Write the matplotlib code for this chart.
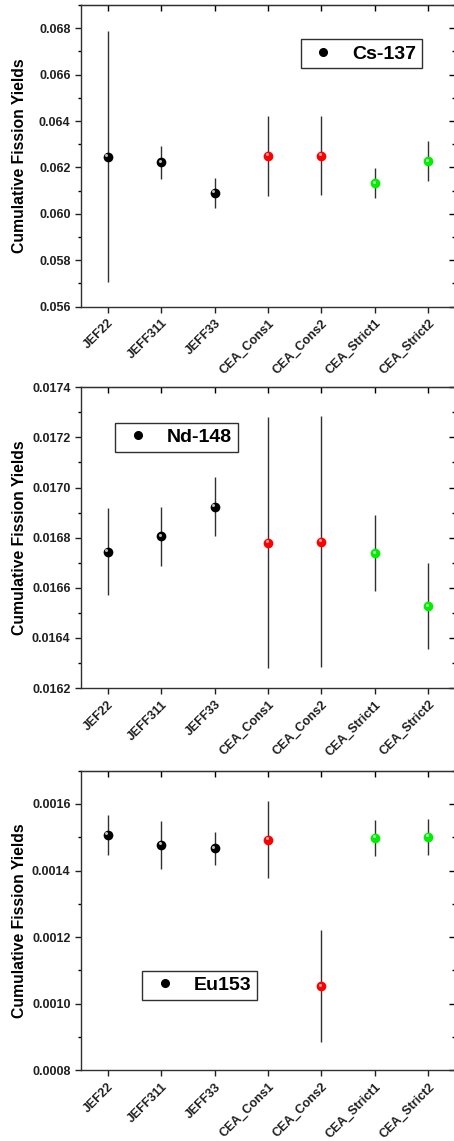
import matplotlib.pyplot as plt
import matplotlib.transforms as mtransforms
from matplotlib.lines import Line2D
from matplotlib.ticker import FormatStrFormatter, MultipleLocator, AutoMinorLocator
import numpy as np

plt.rcParams['font.family'] = ['Liberation Sans', 'DejaVu Sans']
plt.rcParams['font.weight'] = 'bold'

libraries = ['JEF22', 'JEFF311', 'JEFF33', 'CEA_Cons1', 'CEA_Cons2', 'CEA_Strict1', 'CEA_Strict2']
point_colors = ['black', 'black', 'black', '#ff0000', '#ff0000', '#00ee00', '#00ee00']

# Cs-137
cs_yield = [0.06247, 0.06222, 0.06091, 0.06250, 0.06250, 0.06132, 0.06227]
cs_err = [0.00540, 0.00072, 0.00065, 0.00171, 0.00170, 0.00064, 0.00087]

# Nd-148
nd_yield = [0.016744, 0.016805, 0.016924, 0.016780, 0.016784, 0.016739, 0.016527]
nd_err = [0.000173, 0.000118, 0.000119, 0.000500, 0.000500, 0.000150, 0.000170]

# Eu153
eu_yield = [0.001508, 0.001477, 0.001467, 0.001493, 0.001053, 0.001498, 0.001501]
eu_err = [0.000060, 0.000071, 0.000050, 0.000115, 0.000168, 0.000053, 0.000053]

panels = [
    ('Cs-137', cs_yield, cs_err, (0.056, 0.069), 0.002, '%.3f', [0.1784, 0.7312, 0.824, 0.2644], (0.587, 0.887)),
    ('Nd-148', nd_yield, nd_err, (0.0162, 0.0174), 0.0002, '%.4f', [0.1784, 0.3970, 0.824, 0.2636], (0.091, 0.882)),
    ('Eu153', eu_yield, eu_err, (0.0008, 0.0017), 0.0002, '%.4f', [0.1784, 0.0620, 0.824, 0.2626], (0.163, 0.332)),
]

highlight = {'black': '#d0d0d0', '#ff0000': '#ffb0b0', '#00ee00': '#c0ffc0'}

fig = plt.figure(figsize=(4.54, 11.41), dpi=100)
x = np.arange(1, len(libraries) + 1)

for name, vals, errs, ylim, step, fmt, rect, leg_pos in panels:
    ax = fig.add_axes(rect)
    ax.errorbar(x, vals, yerr=errs, fmt='none', ecolor='#303030', elinewidth=1.0, capsize=0, zorder=2)
    shine = mtransforms.offset_copy(ax.transData, fig=fig, x=-1.0, y=1.0, units='points')
    for xi, v, c in zip(x, vals, point_colors):
        ax.plot(xi, v, 'o', color=c, markersize=7, markeredgewidth=0, zorder=3)
        ax.plot(xi, v, 'o', color=highlight[c], markersize=2.2, markeredgewidth=0,
                alpha=0.9, transform=shine, zorder=4)

    ax.set_xlim(0.5, 7.5)
    ax.set_ylim(*ylim)
    ax.yaxis.set_major_locator(MultipleLocator(step))
    ax.yaxis.set_minor_locator(AutoMinorLocator(2))
    ax.yaxis.set_major_formatter(FormatStrFormatter(fmt))
    ax.set_xticks(x)
    ax.set_xticklabels(libraries, rotation=45, ha='right', va='top', rotation_mode='anchor')
    move = mtransforms.ScaledTranslation(6 / 72, 0, fig.dpi_scale_trans)
    for lbl in ax.get_xticklabels():
        lbl.set_transform(lbl.get_transform() + move)
    ax.tick_params(axis='both', which='major', direction='out', length=4, width=1,
                   labelsize=9, colors='#202020')
    ax.tick_params(axis='y', which='minor', direction='out', length=2.5, width=1)
    for s in ax.spines.values():
        s.set_linewidth(1.0)
        s.set_color('#303030')

    # mirrored ticks on top and right, pointing inward
    top = ax.secondary_xaxis('top')
    top.set_xticks(x)
    top.tick_params(direction='in', length=4, width=1, labeltop=False)
    right = ax.secondary_yaxis('right')
    right.yaxis.set_major_locator(MultipleLocator(step))
    right.yaxis.set_minor_locator(AutoMinorLocator(2))
    right.tick_params(which='major', direction='in', length=4, width=1, labelright=False)
    right.tick_params(which='minor', direction='in', length=2.5, width=1)

    ax.set_ylabel('Cumulative Fission Yields', fontsize=11.3, fontweight='bold')
    ax.yaxis.set_label_coords(-0.145, 0.5)

    handle = Line2D([], [], marker='o', color='black', linestyle='none', markersize=5.5)
    leg = ax.legend([handle], [name], loc='upper left', bbox_to_anchor=leg_pos, borderaxespad=0,
                    fancybox=False, framealpha=1, edgecolor='#303030', handletextpad=0.6,
                    handlelength=1.75, borderpad=0.3, prop={'size': 14, 'weight': 'bold'})
    leg.get_frame().set_linewidth(1.0)

fig.savefig('out.png', dpi=100)
